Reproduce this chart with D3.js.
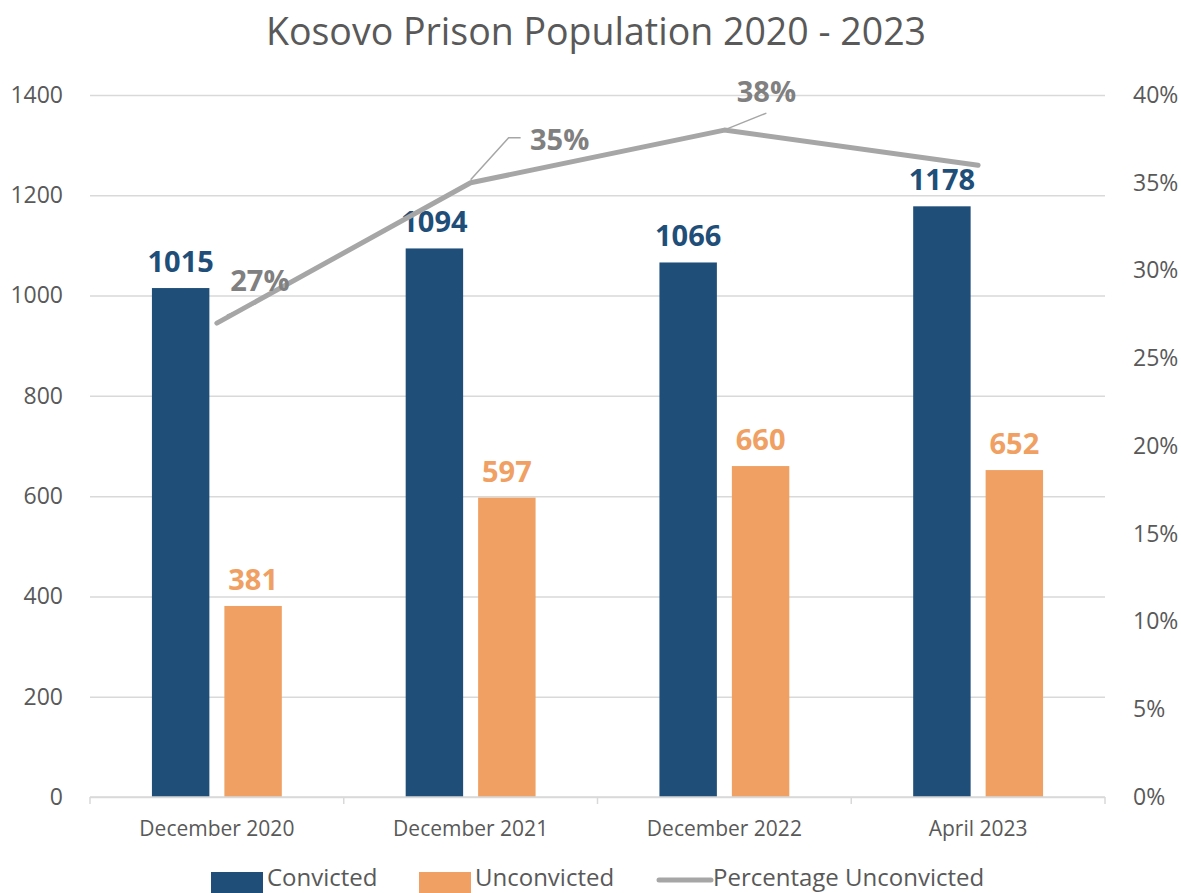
<!DOCTYPE html>
<html>
<head>
<meta charset="utf-8">
<script src="https://cdn.jsdelivr.net/npm/d3@7"></script>
<style>
  html, body { margin: 0; padding: 0; background: #fff; }
  svg { display: block; font-family: "Open Sans", sans-serif; }
</style>
</head>
<body>
<svg id="chart" width="1181" height="893"></svg>
<script>
// Kosovo prison population by reporting date
const categories = ["December 2020", "December 2021", "December 2022", "April 2023"];
const convicted = [1015, 1094, 1066, 1178];
const unconvicted = [381, 597, 660, 652];
const pctUnconvicted = [0.27, 0.35, 0.38, 0.36];
const pctLabelled = [true, true, true, false];
const leftTicks = [0, 200, 400, 600, 800, 1000, 1200, 1400];
const rightTicks = [0, 0.05, 0.10, 0.15, 0.20, 0.25, 0.30, 0.35, 0.40];
const seriesNames = ["Convicted", "Unconvicted"];

const colors = { Convicted: "#1F4E79", Unconvicted: "#F0A062", line: "#A6A6A6" };
const textGrey = "#595959";

const svg = d3.select("#chart");
const plot = { left: 90, right: 1105, top: 95, bottom: 797 };

const x = d3.scaleBand().domain(categories).range([plot.left, plot.right]).padding(0);
const x1 = d3.scaleBand().domain(seriesNames).range([0, x.bandwidth()])
  .paddingInner(0.207).paddingOuter(0.855);
const y = d3.scaleLinear().domain([0, 1400]).range([plot.bottom, plot.top]);
const y2 = d3.scaleLinear().domain([0, 0.40]).range([plot.bottom, plot.top]);

// Title
svg.append("text")
  .attr("x", 596).attr("y", 45)
  .attr("text-anchor", "middle")
  .attr("font-size", 37.5).attr("fill", textGrey)
  .text("Kosovo Prison Population 2020 - 2023");

// Horizontal gridlines
svg.append("g")
  .attr("transform", `translate(${plot.left},0)`)
  .call(d3.axisLeft(y).tickValues(leftTicks).tickSize(-(plot.right - plot.left)).tickFormat(""))
  .call(g => g.select(".domain").remove())
  .call(g => g.selectAll("line").attr("stroke", "#D9D9D9").attr("stroke-width", 1.5));

// Left axis labels
svg.append("g")
  .attr("transform", `translate(${plot.left},0)`)
  .call(d3.axisLeft(y).tickValues(leftTicks).tickSize(0).tickPadding(27).tickFormat(d3.format("d")))
  .call(g => g.select(".domain").remove())
  .call(g => g.selectAll("text").attr("font-size", 23).attr("fill", textGrey)
    .attr("font-family", "Open Sans, sans-serif"));

// Right axis labels
svg.append("g")
  .attr("transform", `translate(${plot.right},0)`)
  .call(d3.axisRight(y2).tickValues(rightTicks).tickSize(0).tickPadding(28).tickFormat(d3.format(".0%")))
  .call(g => g.select(".domain").remove())
  .call(g => g.selectAll("text").attr("font-size", 23).attr("fill", textGrey)
    .attr("font-family", "Open Sans, sans-serif"));

// Bars
const groups = svg.append("g").selectAll("g")
  .data(categories.map((c, i) => ({ c, vals: [convicted[i], unconvicted[i]] })))
  .join("g")
  .attr("transform", d => `translate(${x(d.c)},0)`);

groups.selectAll("rect")
  .data(d => d.vals.map((v, j) => ({ key: seriesNames[j], v })))
  .join("rect")
  .attr("x", d => x1(d.key))
  .attr("width", x1.bandwidth())
  .attr("y", d => y(d.v))
  .attr("height", d => y(0) - y(d.v))
  .attr("fill", d => colors[d.key]);

groups.selectAll("text")
  .data(d => d.vals.map((v, j) => ({ key: seriesNames[j], v })))
  .join("text")
  .attr("x", d => x1(d.key) + x1.bandwidth() / 2)
  .attr("y", d => y(d.v) - 16)
  .attr("text-anchor", "middle")
  .attr("font-size", 29).attr("font-weight", 700)
  .attr("fill", d => colors[d.key])
  .text(d => d.v);

// Category axis
const xAxis = svg.append("g").attr("transform", `translate(0,${plot.bottom})`);
xAxis.append("line")
  .attr("x1", plot.left).attr("x2", plot.right)
  .attr("stroke", "#D9D9D9").attr("stroke-width", 1.5);
xAxis.selectAll("line.tick")
  .data(categories.concat(["end"]))
  .join("line").attr("class", "tick")
  .attr("x1", (d, i) => i < categories.length ? x(d) : plot.right)
  .attr("x2", (d, i) => i < categories.length ? x(d) : plot.right)
  .attr("y1", 0).attr("y2", 7)
  .attr("stroke", "#D9D9D9").attr("stroke-width", 1.5);
xAxis.selectAll("text")
  .data(categories)
  .join("text")
  .attr("x", d => x(d) + x.bandwidth() / 2)
  .attr("y", 39)
  .attr("text-anchor", "middle")
  .attr("font-size", 21).attr("fill", textGrey)
  .text(d => d);

// Percentage line
const cx = c => x(c) + x.bandwidth() / 2;
const linePts = categories.map((c, i) => [cx(c), y2(pctUnconvicted[i])]);
svg.append("path")
  .attr("d", d3.line()(linePts))
  .attr("fill", "none")
  .attr("stroke", colors.line)
  .attr("stroke-width", 5)
  .attr("stroke-linecap", "round")
  .attr("stroke-linejoin", "round");

// Percentage labels with leader lines (offsets from each point)
const pctLabelOffsets = [
  { dx: 43, dy: -32, lead: [[10, -8], [40, -20]] },
  { dx: 89, dy: -33, lead: [[0, -3], [38, -45], [50, -45]] },
  { dx: 42, dy: -28, lead: [[2, -1], [42, -17]] },
  null
];
categories.forEach((c, i) => {
  if (!pctLabelled[i]) return;
  const [px, py] = linePts[i];
  const o = pctLabelOffsets[i];
  svg.append("path")
    .attr("d", d3.line()(o.lead.map(p => [px + p[0], py + p[1]])))
    .attr("fill", "none").attr("stroke", colors.line).attr("stroke-width", 1.5);
  svg.append("text")
    .attr("x", px + o.dx).attr("y", py + o.dy)
    .attr("text-anchor", "middle")
    .attr("font-size", 29).attr("font-weight", 700)
    .attr("fill", "#808080")
    .text(d3.format(".0%")(pctUnconvicted[i]));
});

// Legend
const legend = svg.append("g");
const legendItems = [
  { name: "Convicted", type: "rect", x: 211, color: colors.Convicted },
  { name: "Unconvicted", type: "rect", x: 419, color: colors.Unconvicted },
  { name: "Percentage Unconvicted", type: "line", x: 657, color: colors.line }
];
legendItems.forEach(it => {
  if (it.type === "rect") {
    legend.append("rect").attr("x", it.x).attr("y", 872).attr("width", 52).attr("height", 21).attr("fill", it.color);
  } else {
    legend.append("line").attr("x1", it.x + 2).attr("x2", it.x + 54).attr("y1", 880).attr("y2", 880)
      .attr("stroke", it.color).attr("stroke-width", 5).attr("stroke-linecap", "round");
  }
  legend.append("text")
    .attr("x", it.x + 56).attr("y", 886)
    .attr("font-size", 24).attr("fill", textGrey)
    .text(it.name);
});
</script>
</body>
</html>
